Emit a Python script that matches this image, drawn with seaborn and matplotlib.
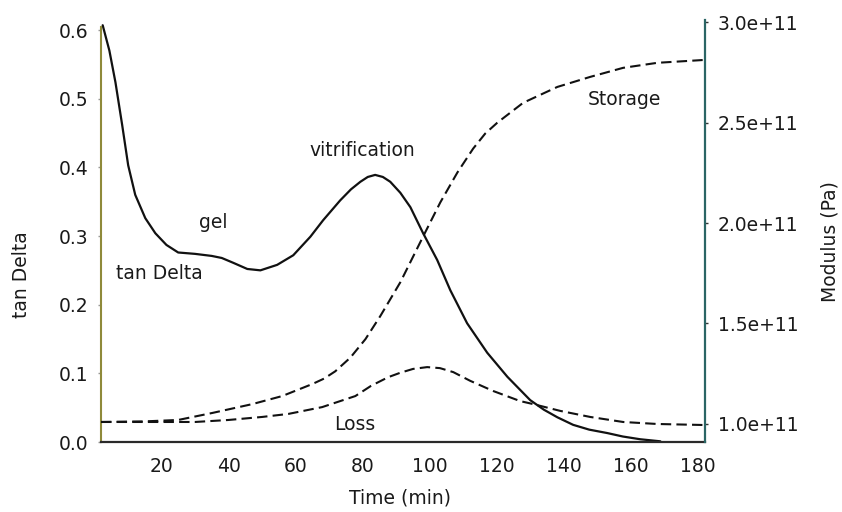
import matplotlib
matplotlib.use("Agg")
import matplotlib.pyplot as plt
from matplotlib.ticker import FixedLocator, FormatStrFormatter
import seaborn as sns
import pandas as pd

# Cure monitoring: tan Delta (left axis) and moduli (right axis) versus time
tan_time = [2.5, 4.5, 6.3, 8.3, 10.1, 12.2, 15.2, 18.2, 21.5, 25, 30, 35, 38, 41.4,
            45.6, 49.5, 54.5, 59.3, 64.4, 68.2, 73.3, 76.5, 79.3, 81.5, 83.7, 86,
            88.2, 91.2, 94.2, 98, 102.2, 106.1, 111.1, 117.1, 123.1, 129.9, 134,
            138, 142.7, 147.5, 152.9, 157.5, 162.7, 168.7]
tan_delta = [0.607, 0.570, 0.524, 0.462, 0.403, 0.360, 0.326, 0.304, 0.287, 0.276,
             0.274, 0.271, 0.268, 0.261, 0.252, 0.250, 0.258, 0.272, 0.299, 0.323,
             0.352, 0.368, 0.379, 0.386, 0.389, 0.386, 0.379, 0.363, 0.342, 0.304,
             0.265, 0.221, 0.173, 0.130, 0.095, 0.061, 0.047, 0.036, 0.025, 0.018,
             0.013, 0.008, 0.004, 0.001]

storage_time = [2, 15, 25, 35.2, 47.1, 56, 65, 68.5, 71.8, 76.3, 80.8, 85.2, 91.2,
                98, 103.1, 108.2, 112.9, 116.5, 120.1, 127.8, 138, 147.8, 157.6,
                167.8, 181.5]
storage_mod = [1.01e11, 1.013e11, 1.02e11, 1.055e11, 1.099e11, 1.139e11, 1.199e11,
               1.226e11, 1.262e11, 1.330e11, 1.422e11, 1.536e11, 1.705e11, 1.933e11,
               2.102e11, 2.251e11, 2.370e11, 2.445e11, 2.499e11, 2.598e11, 2.677e11,
               2.727e11, 2.772e11, 2.797e11, 2.811e11]

loss_time = [2, 30, 40, 50, 57.8, 67.9, 77.8, 82.5, 87.6, 91.2, 95, 99.2, 103, 107,
             112, 118.9, 126.9, 130.8, 138.9, 147.8, 157.6, 167.8, 181.5]
loss_mod = [1.01e11, 1.01e11, 1.02e11, 1.035e11, 1.05e11, 1.084e11, 1.139e11,
            1.19e11, 1.233e11, 1.255e11, 1.274e11, 1.283e11, 1.278e11, 1.258e11,
            1.215e11, 1.164e11, 1.114e11, 1.099e11, 1.065e11, 1.035e11, 1.01e11,
            1.0e11, 0.995e11]

x_ticks = [20, 40, 60, 80, 100, 120, 140, 160, 180]
tan_ticks = [0.0, 0.1, 0.2, 0.3, 0.4, 0.5, 0.6]
mod_ticks = [1.0e11, 1.5e11, 2.0e11, 2.5e11, 3.0e11]

sns.set_style("white")
plt.rcParams["font.family"] = ["DejaVu Sans"]
FS = 13.5
TXT = "#1a1a1a"

tan_df = pd.DataFrame({"Time": tan_time, "tan Delta": tan_delta})
st_df = pd.DataFrame({"Time": storage_time, "Modulus": storage_mod})
lo_df = pd.DataFrame({"Time": loss_time, "Modulus": loss_mod})

fig = plt.figure(figsize=(8.42, 5.12), dpi=100)
ax = fig.add_axes([101 / 842, 70 / 512, 604 / 842, 422 / 512])
ax2 = ax.twinx()

sns.lineplot(data=tan_df, x="Time", y="tan Delta", ax=ax, color="#111111",
             lw=1.6, sort=False, estimator=None)
sns.lineplot(data=st_df, x="Time", y="Modulus", ax=ax2, color="#111111",
             lw=1.5, sort=False, estimator=None)
sns.lineplot(data=lo_df, x="Time", y="Modulus", ax=ax2, color="#111111",
             lw=1.5, sort=False, estimator=None)
for ln in ax2.get_lines():
    ln.set_dashes((5, 2.5))

ax.set_xlim(2, 182)
ax.set_ylim(0, 0.6146)
ax2.set_ylim(0.9104e11, 3.01e11)

ax.xaxis.set_major_locator(FixedLocator(x_ticks))
ax.xaxis.set_major_formatter(FormatStrFormatter("%d"))
ax.yaxis.set_major_locator(FixedLocator(tan_ticks))
ax.yaxis.set_major_formatter(FormatStrFormatter("%.1f"))
ax2.yaxis.set_major_locator(FixedLocator(mod_ticks))
ax2.yaxis.set_major_formatter(FormatStrFormatter("%.1e"))

for a in (ax, ax2):
    for s in a.spines.values():
        s.set_visible(False)
ax.spines["left"].set_visible(True)
ax.spines["left"].set_color("#8f8a3a")
ax.spines["left"].set_linewidth(1.5)
ax.spines["left"].set_bounds(0, 0.605)
ax.spines["bottom"].set_visible(True)
ax.spines["bottom"].set_color("#2a2a2a")
ax.spines["bottom"].set_linewidth(1.6)
ax2.spines["right"].set_visible(True)
ax2.spines["right"].set_color("#2b6565")
ax2.spines["right"].set_linewidth(1.6)

ax.tick_params(axis="x", length=0, pad=11, labelsize=FS, labelcolor=TXT)
ax.tick_params(axis="y", length=2, width=1, color="#999999", pad=7,
               labelsize=FS, labelcolor=TXT)
ax2.tick_params(axis="y", length=2, width=1, color="#333333", pad=7,
                labelsize=FS, labelcolor=TXT)

ax.set_xlabel("Time (min)", fontsize=FS, color=TXT, va="center")
ax.set_ylabel("tan Delta", fontsize=FS, color=TXT, va="center")
ax2.set_ylabel("Modulus (Pa)", fontsize=FS, color=TXT, va="center")
ax.xaxis.set_label_coords(0.495, -0.133)
ax.yaxis.set_label_coords(-0.131, 0.396)
ax2.yaxis.set_label_coords(1.207, 0.474)

# curve and stage annotations
notes = [("gel", 35.5, 0.320), ("tan Delta", 19.4, 0.246),
         ("vitrification", 79.9, 0.424), ("Storage", 157.9, 0.4995),
         ("Loss", 77.5, 0.026)]
for text, tx, ty in notes:
    ax.text(tx, ty, text, fontsize=FS, color=TXT, ha="center", va="center")

ax.grid(False)
ax2.grid(False)
fig.savefig("out.png", dpi=100)
